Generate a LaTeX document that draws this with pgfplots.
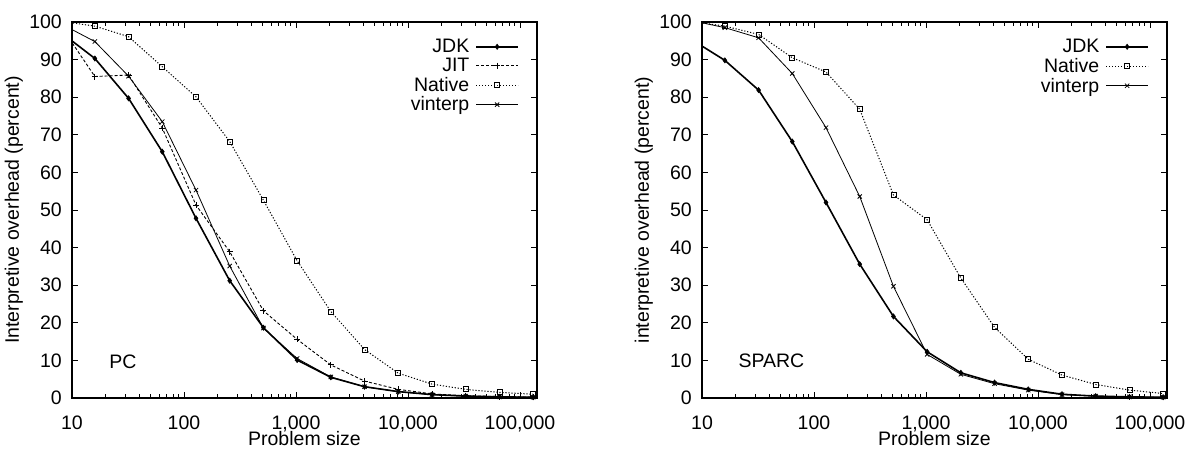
\documentclass[border=0pt]{standalone}
\usepackage{fontspec}
\setmainfont{Liberation Sans}
\usepackage{pgfplots}
\pgfplotsset{compat=1.18}

\newcommand{\bigfont}{\fontsize{19.5}{21}\selectfont}
\pgfplotsset{
  every axis/.append style={
    scale only axis, width=465pt, height=376pt,
    xmin=10, xmax=142000, ymin=0, ymax=100,
    xtick={10,100,1000,10000,100000},
    xticklabels={10,100,{1,000},{10,000},{100,000}},
    minor xtick={20,30,40,50,60,70,80,90,200,300,400,500,600,700,800,900,
      2000,3000,4000,5000,6000,7000,8000,9000,20000,30000,40000,50000,60000,70000,80000,90000},
    ytick={0,10,...,100},
    tick align=inside,
    major tick length=6pt, minor tick length=4pt,
    every tick/.style={black, line width=0.8pt},
    axis line style={line width=1.2pt},
    /pgf/number format/assume math mode=true,
    tick label style={font=\bigfont},
    xticklabel style={inner sep=2pt, yshift=-15.5pt},
    yticklabel style={inner sep=2pt, xshift=-8pt},
    label style={font=\bigfont},
    xlabel={Problem size},
    x label style={at={(axis description cs:0.5,-0.108)}, anchor=center, inner sep=0pt},
    y label style={at={(axis description cs:-0.125,0.5)}, anchor=center},
    legend plot pos=right, legend cell align=right,
    legend style={draw=none, fill=none, at={(0.968,0.965)}, anchor=north east,
      row sep=0pt, font=\bigfont,
      /tikz/every odd column/.append style={column sep=4pt}},
  },
  legend image code/.code={\draw[mark repeat=2,mark phase=2] plot coordinates {(0pt,0pt) (21pt,0pt) (42pt,0pt)};},
}
\tikzset{
  jdk/.style={black, line width=1.6pt, mark=diamond*, mark size=2.6pt, mark options={solid, line width=0.6pt}},
  jit/.style={black, line width=0.9pt, dash pattern=on 3pt off 2pt, mark=+, mark size=3pt, mark options={solid}},
  natv/.style={black, line width=1pt, dash pattern=on 1.2pt off 1.8pt, mark=square, mark size=2.5pt, mark options={solid, line width=0.8pt}},
  vint/.style={black, line width=0.8pt, mark=x, mark size=3pt, mark options={solid}},
}

\begin{document}
\begin{tikzpicture}[font=\bigfont]
\useasboundingbox (-72pt,-50pt) rectangle (1113pt,398pt);

% PC
\begin{axis}[xmode=log, at={(0pt,0pt)}, ylabel={Interpretive overhead (percent)}]
\addplot[jdk] coordinates {(8,97.2)(16,90.3)(32,79.7)(64,65.5)(128,47.8)(256,31.2)(512,18.7)(1024,10.1)(2048,5.5)(4096,3.0)(8192,1.7)(16384,0.9)(32768,0.5)(65536,0.3)(131072,0.2)};
\addlegendentry{JDK}
\addplot[jit] coordinates {(8,98.8)(16,85.5)(32,85.9)(64,71.8)(128,51.3)(256,38.9)(512,23.2)(1024,15.6)(2048,8.8)(4096,4.5)(8192,2.3)(16384,1.1)(32768,0.6)(65536,0.4)(131072,0.2)};
\addlegendentry{JIT}
\addplot[natv] coordinates {(8,100.2)(16,98.9)(32,96.1)(64,88.1)(128,80.1)(256,68.2)(512,52.6)(1024,36.5)(2048,23.0)(4096,12.9)(8192,6.6)(16384,3.7)(32768,2.3)(65536,1.5)(131072,1.0)};
\addlegendentry{Native}
\addplot[vint] coordinates {(8,99.5)(16,94.8)(32,85.6)(64,73.5)(128,55.3)(256,35.1)(512,18.6)(1024,10.5)(2048,5.6)(4096,3.0)(8192,1.7)(16384,0.9)(32768,0.5)(65536,0.3)(131072,0.2)};
\addlegendentry{vinterp}
\node[anchor=west, font=\bigfont] at (rel axis cs:0.073,0.097) {PC};
\end{axis}

% SPARC
\begin{axis}[xmode=log, at={(630pt,0pt)}, ylabel={interpretive overhead (percent)}]
\addplot[jdk] coordinates {(8,95.4)(16,89.8)(32,81.9)(64,68.2)(128,52.0)(256,35.6)(512,21.7)(1024,12.3)(2048,6.7)(4096,4.1)(8192,2.3)(16384,1.0)(32768,0.5)(65536,0.3)(131072,0.2)};
\addlegendentry{JDK}
\addplot[natv] coordinates {(8,100.2)(16,98.9)(32,96.7)(64,90.5)(128,86.7)(256,76.8)(512,54.0)(1024,47.4)(2048,31.9)(4096,18.8)(8192,10.3)(16384,6.1)(32768,3.6)(65536,2.1)(131072,1.2)};
\addlegendentry{Native}
\addplot[vint] coordinates {(8,100.4)(16,98.5)(32,95.8)(64,86.3)(128,71.9)(256,53.6)(512,29.7)(1024,11.6)(2048,6.3)(4096,3.8)(8192,2.1)(16384,0.9)(32768,0.5)(65536,0.3)(131072,0.2)};
\addlegendentry{vinterp}
\node[anchor=west, font=\bigfont] at (rel axis cs:0.071,0.098) {SPARC};
\end{axis}
\end{tikzpicture}
\end{document}
